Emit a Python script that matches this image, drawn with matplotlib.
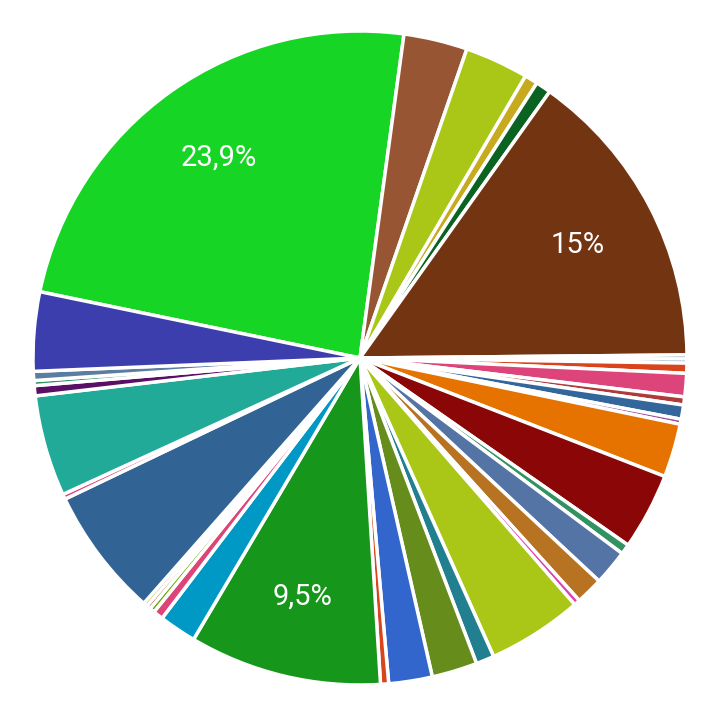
import matplotlib
matplotlib.use("Agg")
import matplotlib.pyplot as plt

values = [23.9, 3.15, 3.15, 0.65, 0.75, 15.0, 0.2, 0.2, 0.5, 1.15, 0.4, 0.7, 0.25,
          2.65, 3.8, 0.5, 1.75, 1.35, 0.3, 4.7, 0.9, 2.25, 2.15, 0.4, 9.5, 1.85,
          0.5, 0.25, 0.2, 0.2, 6.4, 0.25, 5.0, 0.5, 0.25, 0.45, 3.9]
colors = ["#17d524", "#985533", "#aac718", "#c8aa1e", "#0b6322", "#733411",
          "#3d6fa6", "#3d6fa6", "#d9441c", "#dd4479", "#b03a3a", "#33669a", "#9b4c9b",
          "#e67300", "#8b0707", "#329262", "#5574a6", "#b77322", "#dd44aa", "#aac718",
          "#217f8f", "#668d1c", "#3366cc", "#d9441c", "#16961a", "#0099c6",
          "#dd4477", "#66aa00", "#b82e2e", "#aaaa11", "#316395", "#dd4477", "#22aa99",
          "#5a0f66", "#329262", "#5a7ea0", "#3b3eac"]

plt.rcParams['font.family'] = ['Roboto', 'DejaVu Sans']
fig = plt.figure(figsize=(7.2, 7.2), dpi=100)
ax = fig.add_axes([0, 0, 1, 1])

def fmt(p):
    if p < 9:
        return ""
    s = f"{p:.1f}".replace(".", ",")
    if s.endswith(",0"):
        s = s[:-2]
    return s + "%"

wedges, texts, autotexts = ax.pie(values, colors=colors, startangle=168.3, counterclock=False,
                                  autopct=fmt, pctdistance=0.75,
                                  wedgeprops=dict(edgecolor="white", linewidth=2.5))
for t in autotexts:
    t.set_color("white")
    t.set_fontsize(21)
ax.set_xlim(-360/327, 360/327)
ax.set_ylim(-362/327, 358/327)
ax.set_aspect("equal")
ax.axis("off")
fig.savefig("out.png", dpi=100)
